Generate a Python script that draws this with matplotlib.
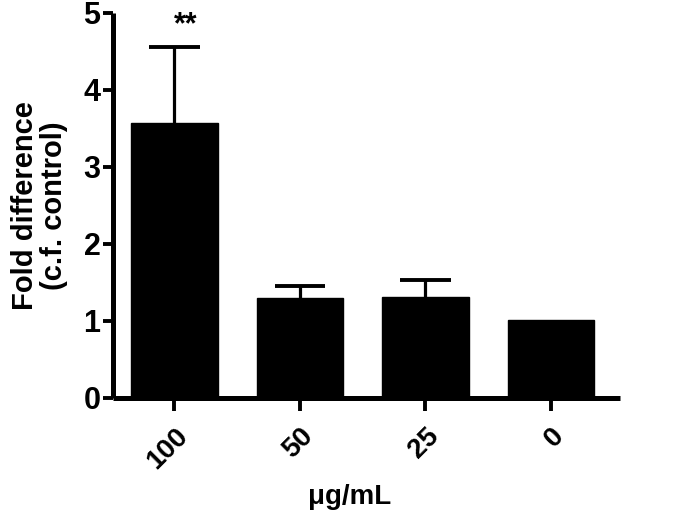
import matplotlib
matplotlib.use("Agg")
import matplotlib.pyplot as plt

categories = ["100", "50", "25", "0"]
values = [3.57, 1.30, 1.31, 1.01]
err_upper = [0.99, 0.15, 0.22, 0.0]
sig_labels = ["**", "", "", ""]
yticks = [0, 1, 2, 3, 4, 5]

plt.rcParams['font.family'] = ['Liberation Sans', 'DejaVu Sans']
plt.rcParams['font.weight'] = 'bold'

fig = plt.figure(figsize=(6.92, 5.2), dpi=100)
ax = fig.add_axes([113/692, 1-397.5/520, (620-113)/692, (397.5-13)/520])

x = list(range(len(categories)))
ax.bar(x, values, width=0.69, color='black', edgecolor='black', linewidth=1, zorder=2)

cap_half = 0.2
for xi, v, e in zip(x, values, err_upper):
    if e > 0:
        ax.vlines(xi, v, v + e, color='black', linewidth=2.3, zorder=1)
        ax.hlines(v + e, xi - cap_half, xi + cap_half, color='black', linewidth=2.8, zorder=1)

for xi, v, e, s in zip(x, values, err_upper, sig_labels):
    if s:
        ax.text(xi + 0.09, 4.84, s, ha='center', va='center', fontsize=22, fontweight='bold')

ax.set_xlim(-0.49, 3.55)
ax.set_ylim(0, 5)
ax.set_yticks(yticks)
ax.set_xticks(x)
ax.set_xticklabels(categories, rotation=45, ha='right', va='top', rotation_mode='anchor',
                   fontsize=20, fontweight='bold')
ax.set_yticklabels([str(t) for t in yticks], fontsize=22, fontweight='bold')

for sp in ['top', 'right']:
    ax.spines[sp].set_visible(False)
for sp in ['left', 'bottom']:
    ax.spines[sp].set_linewidth(3.6)
    ax.spines[sp].set_capstyle('butt')
ax.tick_params(axis='y', length=7, width=2.8, pad=2)
ax.tick_params(axis='x', length=9.5, width=2.8, pad=9)

ax.set_ylabel("Fold difference\n(c.f. control)", fontsize=21, fontweight='bold', linespacing=1.05)
ax.yaxis.set_label_coords(-0.088, 0.5)
ax.set_xlabel("\u03bcg/mL", fontsize=20, fontweight='bold')
ax.xaxis.set_label_coords((350-113)/507, -0.225)

fig.savefig("out.png", dpi=100)
